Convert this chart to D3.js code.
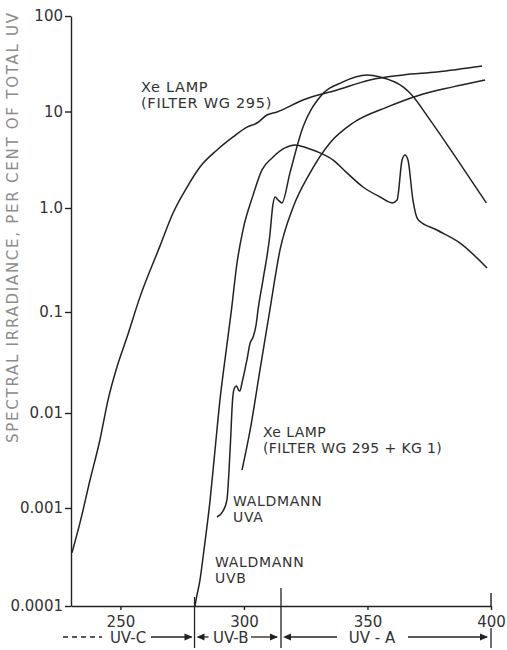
<!DOCTYPE html>
<html>
<head>
<meta charset="utf-8">
<script src="https://cdn.jsdelivr.net/npm/d3@7"></script>
<style>
  body { margin: 0; background: #fff; }
  svg { font-family: "DejaVu Sans", sans-serif; }
</style>
</head>
<body>
<div id="chart"></div>
<script>
// wavelength (nm), per cent of total UV
const xeWG295 = [[230.4,0.00035],[233.6,0.0007],[237.7,0.00197],[241.7,0.0052],[245,0.0135],[248.6,0.0285],
  [252.7,0.0565],[257.9,0.139],[266,0.43],[271.3,0.895],[277,1.65],[282.2,2.66],[289.1,3.99],[295.6,5.45],
  [301.2,6.9],[305.3,7.6],[309.3,9.2],[313.4,9.9],[323.9,13.2],[337.7,16.8],[351,21.4],[364.4,24.1],
  [378.1,25.9],[396.4,29.9]];
const xeKG1 = [[299.2,0.0025],[302.5,0.0066],[306.5,0.0267],[310.5,0.105],[314.6,0.395],[319.9,1.02],
  [326.7,2.3],[334.8,4.72],[344.1,7.6],[357.9,11.1],[371.3,14.9],[384.6,18.1],[397.6,21.4]];
const waldmannUVA = [[289.1,0.00081],[291.5,0.00093],[293.1,0.00121],[294.4,0.0041],[295.4,0.0135],
  [296,0.0173],[297,0.0185],[297.8,0.0169],[298.4,0.0165],[299.2,0.0198],[301.2,0.0335],[302.5,0.0493],
  [303.7,0.0565],[304.9,0.0743],[305.7,0.105],[307.7,0.203],[310.5,0.55],[311.7,1.07],[312.6,1.3],
  [313.8,1.21],[315.4,1.13],[318.6,2.3],[323.9,6.9],[330.8,14.2],[340.1,20.4],[349.8,24.1],[355.1,23],
  [364.4,18.1],[367.2,15.6],[375.3,8.2],[384.6,3.7],[398.1,1.13]];
const waldmannUVB = [[280.2,0.0001],[280.6,0.000115],[282.2,0.000184],[283.8,0.00037],[286.3,0.00121],
  [288.3,0.0041],[290.3,0.0135],[292.3,0.0335],[294.8,0.098],[297.2,0.296],[299.6,0.614],[303.7,1.36],
  [307.3,2.48],[311.4,3.3],[316.6,4.19],[320.7,4.5],[325.5,4.19],[330.8,3.72],[336.1,3.14],[341.7,2.31],
  [348.2,1.65],[355.1,1.3],[360,1.13],[362,1.21],[364,3.14],[365.2,3.54],[366.4,3.14],[368.4,1.21],
  [370.5,0.77],[378.1,0.614],[387.5,0.46],[398.4,0.265]];

const yTicks = [0.0001, 0.001, 0.01, 0.1, 1, 10, 100];
const yTickLabels = ["0.0001", "0.001", "0.01", "0.1", "1.0", "10", "100"];
const xTicks = [250, 300, 350, 400];
const bandEdges = [280, 315, 400];

const W = 507, H = 650;
const svg = d3.select("#chart").append("svg").attr("width", W).attr("height", H);

const x = d3.scaleLinear().domain([230, 400]).range([71, 491]);
// the printed decades are not quite equal, so the log scale is piecewise
const y = d3.scaleLog().domain(yTicks).range([606, 508, 413, 312, 208, 111.5, 16]);
const ink = "#222";

// y axis
const yAxis = svg.append("g").attr("transform", "translate(71,0)")
  .call(d3.axisLeft(y).tickValues(yTicks).tickSize(6).tickSizeOuter(0).tickPadding(2)
    .tickFormat((d, i) => yTickLabels[i]));
yAxis.selectAll("path, line").attr("stroke", ink).attr("stroke-width", 1.4);
yAxis.selectAll("text").attr("font-size", 15).attr("fill", "#333").attr("font-family", "DejaVu Sans");

// x axis
const xAxis = svg.append("g").attr("transform", "translate(0,606)")
  .call(d3.axisBottom(x).tickValues(xTicks).tickSize(4).tickSizeOuter(0).tickPadding(6));
xAxis.selectAll("path, line").attr("stroke", ink).attr("stroke-width", 1.4);
xAxis.selectAll("text").attr("font-size", 15).attr("fill", "#333").attr("font-family", "DejaVu Sans");
svg.append("line").attr("x1", x(400)).attr("x2", x(400)).attr("y1", 593).attr("y2", 606)
  .attr("stroke", ink).attr("stroke-width", 1.4);

// axis title
svg.append("text")
  .attr("transform", "translate(18,228) rotate(-90)")
  .attr("text-anchor", "middle")
  .attr("font-size", 15)
  .attr("fill", "#8c8c8c")
  .attr("textLength", 430)
  .attr("lengthAdjust", "spacing")
  .text("SPECTRAL IRRADIANCE, PER CENT OF TOTAL UV");

// curves
const line = d3.line().x(d => x(d[0])).y(d => y(d[1])).curve(d3.curveMonotoneX);
[xeWG295, xeKG1, waldmannUVA, waldmannUVB].forEach(s => {
  svg.append("path").datum(s).attr("d", line)
    .attr("fill", "none").attr("stroke", ink).attr("stroke-width", 1.5);
});

// curve labels
const labels = [
  { t: ["Xe LAMP", "(FILTER WG 295)"], x: 141, y: 92, fs: 14.5, ls: 0.7 },
  { t: ["Xe LAMP", "(FILTER WG 295 + KG 1)"], x: 263, y: 437, fs: 14, ls: 0.4 },
  { t: ["WALDMANN", "UVA"], x: 233, y: 506, fs: 14, ls: 0.7 },
  { t: ["WALDMANN", "UVB"], x: 215, y: 567, fs: 14, ls: 0.7 },
];
labels.forEach(l => {
  const t = svg.append("text").attr("font-size", l.fs).attr("fill", "#333").attr("letter-spacing", l.ls);
  l.t.forEach((s, i) => t.append("tspan").attr("x", l.x).attr("y", l.y + i * 16).text(s));
});

// UV bands under the axis
const by = 637;
const bands = svg.append("g").attr("stroke", ink).attr("stroke-width", 1.3).attr("fill", ink);
bandEdges.forEach((e, i) => {
  const top = i === 2 ? 628 : (i === 0 ? 597 : 588);
  bands.append("line").attr("x1", x(e)).attr("x2", x(e)).attr("y1", top).attr("y2", 648);
});
function arrowHead(px, dir) {
  bands.append("path")
    .attr("d", `M${px},${by} l${-dir * 8},-3.5 l0,7 Z`)
    .attr("stroke", "none");
}
function seg(x1, x2, dash) {
  bands.append("line").attr("x1", x1).attr("x2", x2).attr("y1", by).attr("y2", by)
    .attr("stroke-dasharray", dash || null);
}
const bandText = (s, cx) => svg.append("text").attr("x", cx).attr("y", by + 6)
  .attr("text-anchor", "middle").attr("font-size", 15).attr("fill", "#333").text(s);

// UV-C
seg(63, 102, "5,4");
bandText("UV-C", 128);
seg(151, x(280) - 3);
arrowHead(x(280) - 2, 1);
// UV-B
arrowHead(x(280) + 2, -1);
seg(x(280) + 4, x(280) + 14);
bandText("UV-B", (x(280) + x(315)) / 2 - 7);
seg(x(315) - 30, x(315) - 4);
arrowHead(x(315) - 3, 1);
// UV-A
arrowHead(x(315) + 2, -1);
seg(x(315) + 4, 337);
bandText("UV - A", 372);
seg(408, x(400) - 4);
arrowHead(x(400) - 3, 1);
</script>
</body>
</html>
